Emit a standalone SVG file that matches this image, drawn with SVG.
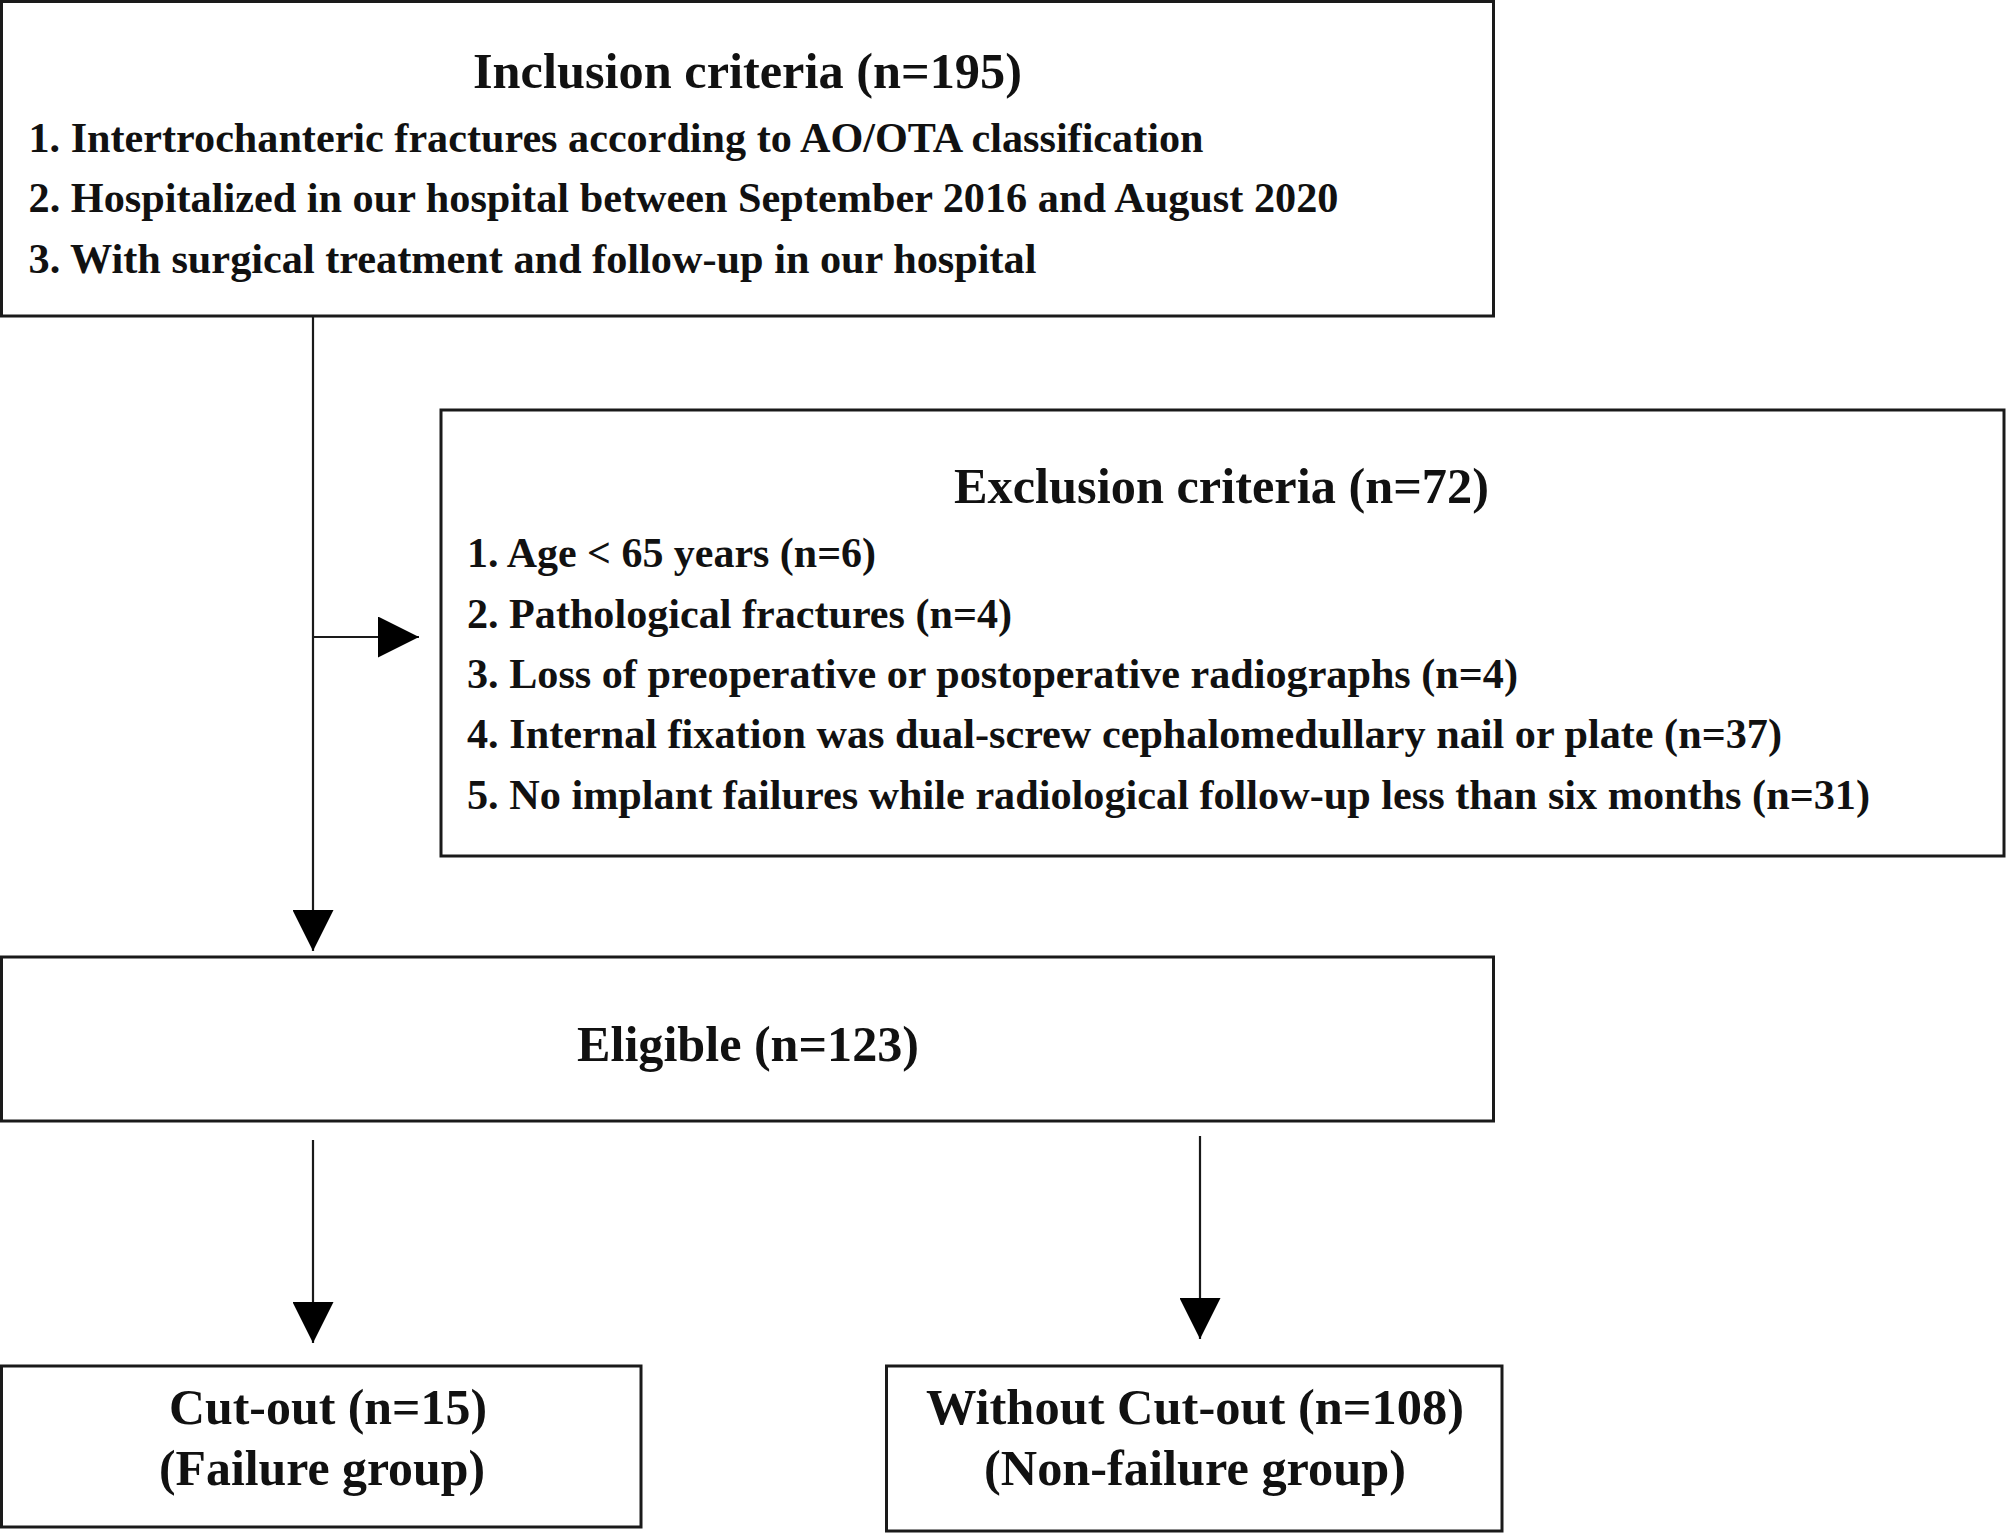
<svg xmlns="http://www.w3.org/2000/svg" width="2008" height="1535" viewBox="0 0 2008 1535">
  <style>
    .box { fill: #ffffff; stroke: #1a1a1a; stroke-width: 3; }
    .conn { stroke: #1a1a1a; stroke-width: 2.2; fill: none; }
    text { font-family: "Liberation Serif", "Times New Roman", serif; font-weight: bold; fill: #111111; }
    .head { font-size: 50px; text-anchor: middle; }
    .body { font-size: 42px; }
  </style>
  <defs>
    <marker id="arrow" viewBox="0 0 41 41" refX="41" refY="20.5" markerWidth="41" markerHeight="41" markerUnits="userSpaceOnUse" orient="auto">
      <path d="M0,0 L41,20.5 L0,41 Z" fill="#000000"/>
    </marker>
  </defs>
  <rect x="0" y="0" width="2008" height="1535" fill="#ffffff"/>

  <g id="connectors">
    <line class="conn" x1="313" y1="316" x2="313" y2="951" marker-end="url(#arrow)"/>
    <line class="conn" x1="313" y1="637" x2="419" y2="637" marker-end="url(#arrow)"/>
    <line class="conn" x1="313" y1="1140" x2="313" y2="1343" marker-end="url(#arrow)"/>
    <line class="conn" x1="1200" y1="1136" x2="1200" y2="1339" marker-end="url(#arrow)"/>
  </g>

  <g id="inclusion">
    <rect class="box" x="1.5" y="1.5" width="1492" height="314.5"/>
    <text class="head" x="747.5" y="88" textLength="549" lengthAdjust="spacingAndGlyphs">Inclusion criteria (n=195)</text>
    <text class="body" x="28.5" y="152" textLength="1175" lengthAdjust="spacingAndGlyphs">1. Intertrochanteric fractures according to AO/OTA classification</text>
    <text class="body" x="28.5" y="212" textLength="1310" lengthAdjust="spacingAndGlyphs">2. Hospitalized in our hospital between September 2016 and August 2020</text>
    <text class="body" x="28.5" y="273" textLength="1008" lengthAdjust="spacingAndGlyphs">3. With surgical treatment and follow-up in our hospital</text>
  </g>

  <g id="exclusion">
    <rect class="box" x="441" y="410" width="1563" height="446"/>
    <text class="head" x="1221.5" y="503" textLength="535" lengthAdjust="spacingAndGlyphs">Exclusion criteria (n=72)</text>
    <text class="body" x="467" y="567" textLength="409" lengthAdjust="spacingAndGlyphs">1. Age &lt; 65 years (n=6)</text>
    <text class="body" x="467" y="628" textLength="545" lengthAdjust="spacingAndGlyphs">2. Pathological fractures (n=4)</text>
    <text class="body" x="467" y="688" textLength="1051" lengthAdjust="spacingAndGlyphs">3. Loss of preoperative or postoperative radiographs (n=4)</text>
    <text class="body" x="467" y="748" textLength="1315" lengthAdjust="spacingAndGlyphs">4. Internal fixation was dual-screw cephalomedullary nail or plate (n=37)</text>
    <text class="body" x="467" y="809" textLength="1403" lengthAdjust="spacingAndGlyphs">5. No implant failures while radiological follow-up less than six months (n=31)</text>
  </g>

  <g id="eligible">
    <rect class="box" x="1.5" y="957" width="1492" height="164"/>
    <text class="head" x="748" y="1061" textLength="342" lengthAdjust="spacingAndGlyphs">Eligible (n=123)</text>
  </g>

  <g id="cutout">
    <rect class="box" x="1.5" y="1366" width="639.5" height="161"/>
    <text class="head" x="328" y="1424" textLength="318" lengthAdjust="spacingAndGlyphs">Cut-out (n=15)</text>
    <text class="head" x="322" y="1485" textLength="326" lengthAdjust="spacingAndGlyphs">(Failure group)</text>
  </g>

  <g id="without-cutout">
    <rect class="box" x="886.5" y="1366" width="615.5" height="165"/>
    <text class="head" x="1195" y="1424" textLength="538" lengthAdjust="spacingAndGlyphs">Without Cut-out (n=108)</text>
    <text class="head" x="1195" y="1485" textLength="422" lengthAdjust="spacingAndGlyphs">(Non-failure group)</text>
  </g>
</svg>
